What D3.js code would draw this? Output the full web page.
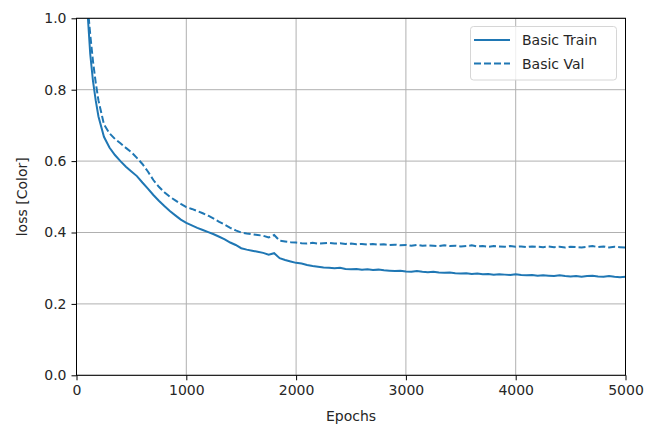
<!DOCTYPE html>
<html>
<head>
<meta charset="utf-8">
<script src="https://cdn.jsdelivr.net/npm/d3@7"></script>
<style>
  body { margin: 0; background: #fff; }
  text { font-family: "DejaVu Sans", sans-serif; fill: #262626; }
</style>
</head>
<body>
<script>
// epochs sampled from the history plot
var epochs = [0, 25, 50, 75, 100, 125, 150, 175, 200, 250, 300, 350, 400, 450, 500,
  550, 600, 650, 700, 750, 800, 850, 900, 950, 1000, 1050, 1100, 1150, 1200, 1250,
  1300, 1350, 1400, 1450, 1500, 1550, 1600, 1650, 1700, 1750, 1800, 1850, 1900, 1950,
  2000, 2050, 2100, 2150, 2200, 2250, 2300, 2350, 2400, 2450, 2500, 2550, 2600, 2650,
  2700, 2750, 2800, 2850, 2900, 2950, 3000, 3050, 3100, 3150, 3200, 3250, 3300, 3350,
  3400, 3450, 3500, 3550, 3600, 3650, 3700, 3750, 3800, 3850, 3900, 3950, 4000, 4050,
  4100, 4150, 4200, 4250, 4300, 4350, 4400, 4450, 4500, 4550, 4600, 4650, 4700, 4750,
  4800, 4850, 4900, 4950, 5000];

var trainLoss = [2.4, 1.7, 1.35, 1.15, 1.02, 0.90, 0.825, 0.77, 0.725, 0.668, 0.638, 0.617, 0.600, 0.584, 0.571,
  0.558, 0.540, 0.523, 0.505, 0.489, 0.474, 0.460, 0.448, 0.436, 0.427, 0.42, 0.413, 0.407, 0.401, 0.395,
  0.388, 0.381, 0.372, 0.365, 0.356, 0.352, 0.349, 0.346, 0.343, 0.338, 0.342, 0.328, 0.323, 0.319,
  0.315, 0.313, 0.309, 0.306, 0.304, 0.302, 0.301, 0.300, 0.301, 0.298, 0.297, 0.298, 0.296, 0.297,
  0.295, 0.296, 0.294, 0.293, 0.292, 0.293, 0.291, 0.290, 0.292, 0.290, 0.289, 0.290, 0.288, 0.287,
  0.288, 0.286, 0.285, 0.286, 0.284, 0.285, 0.283, 0.284, 0.282, 0.283, 0.282, 0.281, 0.283, 0.281,
  0.280, 0.281, 0.279, 0.280, 0.279, 0.278, 0.280, 0.278, 0.277, 0.278, 0.276, 0.278, 0.279, 0.277,
  0.276, 0.278, 0.276, 0.275, 0.276];

var valLoss = [2.6, 1.9, 1.45, 1.2, 1.04, 0.955, 0.88, 0.82, 0.77, 0.703, 0.678, 0.662, 0.650, 0.637, 0.625,
  0.609, 0.592, 0.571, 0.547, 0.528, 0.513, 0.50, 0.49, 0.48, 0.471, 0.466, 0.460, 0.454, 0.447, 0.439,
  0.43, 0.422, 0.413, 0.406, 0.400, 0.397, 0.395, 0.393, 0.391, 0.386, 0.393, 0.377, 0.375, 0.373,
  0.372, 0.370, 0.369, 0.371, 0.369, 0.370, 0.371, 0.369, 0.370, 0.368, 0.369, 0.367, 0.368, 0.366,
  0.368, 0.366, 0.367, 0.365, 0.366, 0.364, 0.365, 0.363, 0.365, 0.363, 0.364, 0.363, 0.362, 0.364,
  0.362, 0.363, 0.361, 0.362, 0.364, 0.361, 0.362, 0.360, 0.362, 0.361, 0.360, 0.362, 0.360, 0.361,
  0.359, 0.361, 0.360, 0.359, 0.361, 0.359, 0.360, 0.358, 0.360, 0.359, 0.358, 0.360, 0.362, 0.359,
  0.361, 0.358, 0.360, 0.359, 0.358];

var xTicks = [0, 1000, 2000, 3000, 4000, 5000];
var yTicks = [0.0, 0.2, 0.4, 0.6, 0.8, 1.0];
var seriesNames = ["Basic Train", "Basic Val"];

var width = 659,
  height = 426;
var margin = {top: 18.3, right: 33.5, bottom: 50.7, left: 76.5};
var blue = '#1f77b4';

var svg = d3.select('body')
  .append('svg')
  .attr('width', width)
  .attr('height', height);

// Scales
var xScale = d3.scaleLinear()
  .domain([0, 5000])
  .range([margin.left, width - margin.right]);

var yScale = d3.scaleLinear()
  .domain([0, 1])
  .range([height - margin.bottom, margin.top]);

svg.append('clipPath')
  .attr('id', 'plot-clip')
  .append('rect')
  .attr('x', margin.left)
  .attr('y', margin.top)
  .attr('width', width - margin.left - margin.right)
  .attr('height', height - margin.top - margin.bottom);

// Grid
svg.append('g')
  .selectAll('line')
  .data(xTicks)
  .enter()
  .append('line')
  .attr('x1', d => xScale(d)).attr('x2', d => xScale(d))
  .attr('y1', margin.top).attr('y2', height - margin.bottom)
  .attr('stroke', '#b0b0b0').attr('stroke-width', 1);

svg.append('g')
  .selectAll('line')
  .data(yTicks)
  .enter()
  .append('line')
  .attr('x1', margin.left).attr('x2', width - margin.right)
  .attr('y1', d => yScale(d)).attr('y2', d => yScale(d))
  .attr('stroke', '#b0b0b0').attr('stroke-width', 1);

// Lines
var line = function(values) {
  return d3.line()
    .x(function(d, i) { return xScale(epochs[i]); })
    .y(function(d) { return yScale(d); })(values);
};

var plot = svg.append('g').attr('clip-path', 'url(#plot-clip)');

plot.append('path')
  .attr('d', line(trainLoss))
  .attr('fill', 'none')
  .attr('stroke', blue)
  .attr('stroke-width', 2);

plot.append('path')
  .attr('d', line(valLoss))
  .attr('fill', 'none')
  .attr('stroke', blue)
  .attr('stroke-width', 2)
  .attr('stroke-dasharray', '7,3');

// Axes
var xAxis = svg.append('g')
  .attr('transform', `translate(0,${height - margin.bottom})`)
  .call(d3.axisBottom(xScale).tickValues(xTicks).tickSize(5).tickPadding(5).tickFormat(d3.format('d')));

var yAxis = svg.append('g')
  .attr('transform', `translate(${margin.left},0)`)
  .call(d3.axisLeft(yScale).tickValues(yTicks).tickSize(5).tickPadding(5).tickFormat(d3.format('.1f')));

[xAxis, yAxis].forEach(function(ax) {
  ax.select('.domain').remove();
  ax.selectAll('.tick line').attr('stroke', '#000').attr('stroke-width', 1);
  ax.selectAll('.tick text')
    .style('font-family', '"DejaVu Sans", sans-serif')
    .style('font-size', '14px')
    .attr('fill', '#262626');
});

// Frame
svg.append('rect')
  .attr('x', margin.left)
  .attr('y', margin.top)
  .attr('width', width - margin.left - margin.right)
  .attr('height', height - margin.top - margin.bottom)
  .attr('fill', 'none')
  .attr('stroke', '#000')
  .attr('stroke-width', 1);

// Labels
svg.append('text')
  .attr('x', (margin.left + width - margin.right) / 2)
  .attr('y', 421)
  .attr('text-anchor', 'middle')
  .style('font-size', '14px')
  .text('Epochs');

svg.append('text')
  .attr('transform', `translate(27,${(margin.top + height - margin.bottom) / 2}) rotate(-90)`)
  .attr('text-anchor', 'middle')
  .style('font-size', '14px')
  .text('loss [Color]');

// Legend
var legend = svg.append('g');
legend.append('rect')
  .attr('x', 470.5).attr('y', 26.5)
  .attr('width', 146).attr('height', 53.5)
  .attr('rx', 3)
  .attr('fill', 'rgba(255,255,255,0.8)')
  .attr('stroke', '#d6d6d6');

legend.selectAll('line')
  .data(seriesNames)
  .enter()
  .append('line')
  .attr('x1', 474).attr('x2', 510)
  .attr('y1', (d, i) => 40 + i * 23.5).attr('y2', (d, i) => 40 + i * 23.5)
  .attr('stroke', blue)
  .attr('stroke-width', 2)
  .attr('stroke-dasharray', (d, i) => i ? '7,3' : null);

legend.selectAll('text')
  .data(seriesNames)
  .enter()
  .append('text')
  .attr('x', 522)
  .attr('y', (d, i) => 45 + i * 23.5)
  .style('font-size', '14px')
  .text(d => d);
</script>
</body>
</html>
